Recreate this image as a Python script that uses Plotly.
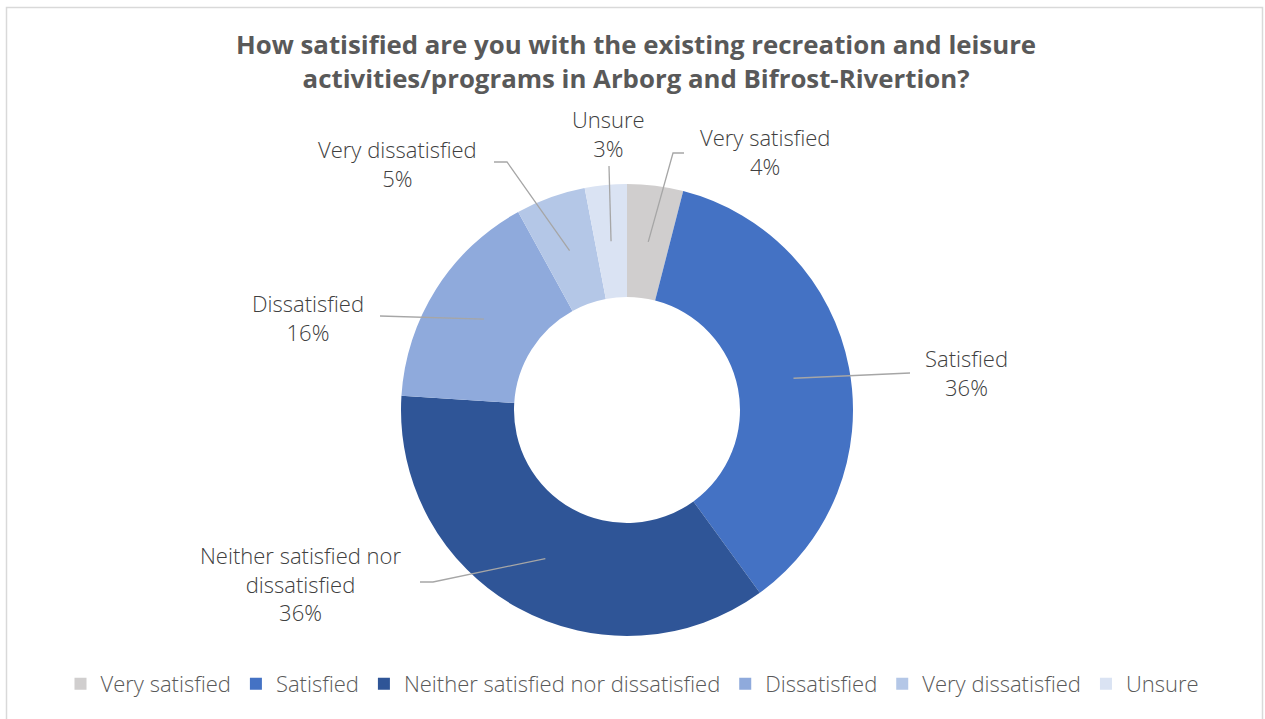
import math
import plotly.graph_objects as go

# Survey responses (percent of respondents)
categories = ["Very satisfied", "Satisfied", "Neither satisfied nor dissatisfied",
              "Dissatisfied", "Very dissatisfied", "Unsure"]
values = [4, 36, 36, 16, 5, 3]
colors = ["#D0CECE", "#4472C4", "#2F5597", "#8FAADC", "#B4C7E7", "#DAE3F3"]
label_text = ["Very satisfied", "Satisfied", "Neither satisfied nor<br>dissatisfied",
              "Dissatisfied", "Very dissatisfied", "Unsure"]
title_text = ("How satisified are you with the existing recreation and leisure<br>"
              "activities/programs in Arborg and Bifrost-Rivertion?")

W, H = 1265, 719
CX, CY, R_OUT = 627, 410, 226
HOLE = 0.5


def px(x):
    return x / W


def py(y):
    return 1 - y / H


# label placement (pixel centre of the text block) and leader-line bends
label_pos = [(765, 152), (966, 372), (300, 583), (308, 317), (397, 163), (608, 133)]
leader_bends = [
    [(673, 153), (684, 153)],
    [(910, 373)],
    [(433, 582), (420, 582)],
    [(380, 316)],
    [(507, 162), (494, 162)],
    [(609, 166)],
]

fig = go.Figure(go.Pie(
    labels=categories,
    values=values,
    sort=False,
    direction="clockwise",
    rotation=0,
    hole=HOLE,
    marker=dict(colors=colors, line=dict(width=0)),
    textinfo="none",
    hoverinfo="label+percent",
    domain=dict(x=[px(CX - R_OUT), px(CX + R_OUT)], y=[py(CY + R_OUT), py(CY - R_OUT)]),
))

total = sum(values)
shapes = []
annotations = []
cum = 0.0
r_mid = R_OUT * (1 + HOLE) / 2
for i, v in enumerate(values):
    mid = (cum + v / 2) / total * 2 * math.pi
    cum += v
    sx = CX + r_mid * math.sin(mid)
    sy = CY - r_mid * math.cos(mid)
    pts = [(sx, sy)] + leader_bends[i]
    path = "M " + " L ".join(f"{px(x):.5f},{py(y):.5f}" for x, y in pts)
    shapes.append(dict(type="path", xref="paper", yref="paper", path=path,
                       line=dict(color="#A6A6A6", width=1.3)))
    pct = round(v / total * 100)
    lx, ly = label_pos[i]
    annotations.append(dict(
        x=px(lx), y=py(ly), xref="paper", yref="paper",
        text=f"{label_text[i]}<br>{pct}%", showarrow=False,
        xanchor="center", yanchor="middle", align="center",
        font=dict(family="Open Sans", size=22, color="#404040", weight=300),
    ))

# chart title
annotations.append(dict(
    x=px(636), y=py(61), xref="paper", yref="paper",
    text=f"<b>{title_text}</b>", showarrow=False,
    xanchor="center", yanchor="middle", align="center",
    font=dict(family="Open Sans", size=25.8, color="#595959"),
))

# chart area frame
shapes.append(dict(type="rect", xref="paper", yref="paper",
                   x0=px(6.5), x1=px(1262.5), y0=py(740), y1=py(7.5),
                   line=dict(color="#D9D9D9", width=1.5), fillcolor="rgba(0,0,0,0)"))

fig.update_layout(
    width=W, height=H,
    margin=dict(l=0, r=0, t=0, b=0),
    paper_bgcolor="white",
    plot_bgcolor="white",
    showlegend=True,
    legend=dict(
        orientation="h", x=0.5, xanchor="center", y=py(684), yanchor="middle",
        font=dict(family="Open Sans", size=22, color="#595959", weight=300),
        itemwidth=30, traceorder="normal",
    ),
    shapes=shapes,
    annotations=annotations,
)

fig.write_html("out.html")
